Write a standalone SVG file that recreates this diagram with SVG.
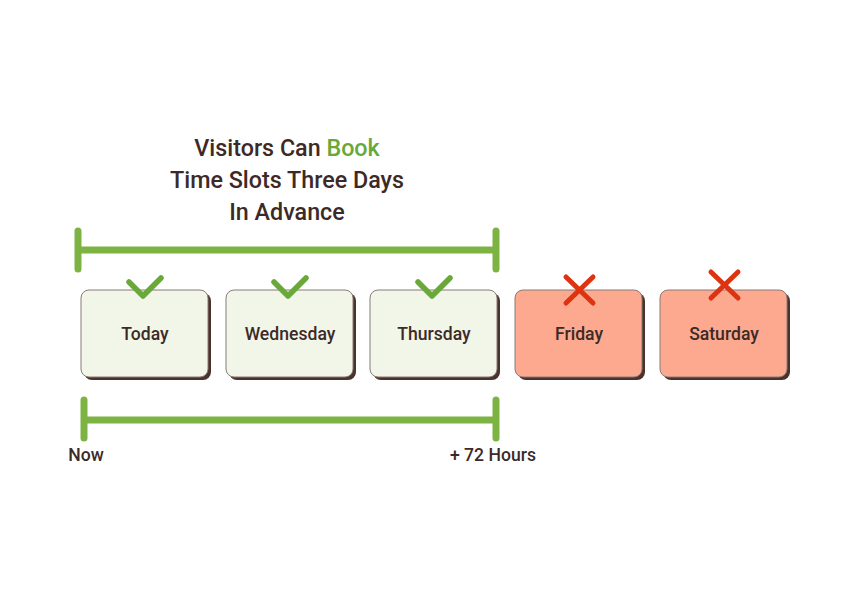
<svg xmlns="http://www.w3.org/2000/svg" width="850" height="600" viewBox="0 0 850 600">
<style>
.t{font-family:Roboto,"Liberation Sans",sans-serif;font-weight:500;fill:#3d2a26;text-anchor:middle}
.title{font-size:23.3px}
.lbl{font-size:17.6px}
.bar{stroke:#7cb342;stroke-width:7;stroke-linecap:round;fill:none}
.ok{fill:#f1f6e9;stroke:#8a7b76;stroke-width:1}
.no{fill:#fda98f;stroke:#8a7b76;stroke-width:1}
.sh{fill:#4a332d}
.chk{stroke:#6aa83a;stroke-width:5.5;fill:none;stroke-linecap:round;stroke-linejoin:round}
.x{stroke:#dd3311;stroke-width:5;fill:none;stroke-linecap:round}
</style>
<rect width="850" height="600" fill="#fff"/>
<g id="title">
<text class="t title" x="287" y="156">Visitors Can <tspan fill="#6aa83a">Book</tspan></text>
<text class="t title" x="287" y="188">Time Slots Three Days</text>
<text class="t title" x="287" y="220">In Advance</text>
</g>
<g id="connectors">
<path class="bar" d="M78 250H496M78 231V269M496 231V269"/>
<path class="bar" d="M84 420H496M84 400V438M496 400V438"/>
</g>
<g id="today">
<rect class="sh" x="84" y="293" width="127" height="87" rx="8"/>
<rect class="ok" x="81" y="290" width="127" height="87" rx="8"/>
<path class="chk" d="M129 282L143 296L161 278"/>
<text class="t lbl" x="145" y="340">Today</text>
</g>
<g id="wednesday">
<rect class="sh" x="229" y="293" width="127" height="87" rx="8"/>
<rect class="ok" x="226" y="290" width="127" height="87" rx="8"/>
<path class="chk" d="M274 282L288 296L306 278"/>
<text class="t lbl" x="290" y="340">Wednesday</text>
</g>
<g id="thursday">
<rect class="sh" x="373" y="293" width="127" height="87" rx="8"/>
<rect class="ok" x="370" y="290" width="127" height="87" rx="8"/>
<path class="chk" d="M418 282L432 296L450 278"/>
<text class="t lbl" x="434" y="340">Thursday</text>
</g>
<g id="friday">
<rect class="sh" x="518" y="293" width="127" height="87" rx="8"/>
<rect class="no" x="515" y="290" width="127" height="87" rx="8"/>
<path class="x" d="M566 277L593 303M593 277L566 303"/>
<text class="t lbl" x="579" y="340">Friday</text>
</g>
<g id="saturday">
<rect class="sh" x="663" y="293" width="127" height="87" rx="8"/>
<rect class="no" x="660" y="290" width="127" height="87" rx="8"/>
<path class="x" d="M711 272L738 298M738 272L711 298"/>
<text class="t lbl" x="724" y="340">Saturday</text>
</g>
<g id="labels">
<text class="t lbl" x="86" y="461">Now</text>
<text class="t lbl" x="493" y="461">+ 72 Hours</text>
</g>
</svg>
